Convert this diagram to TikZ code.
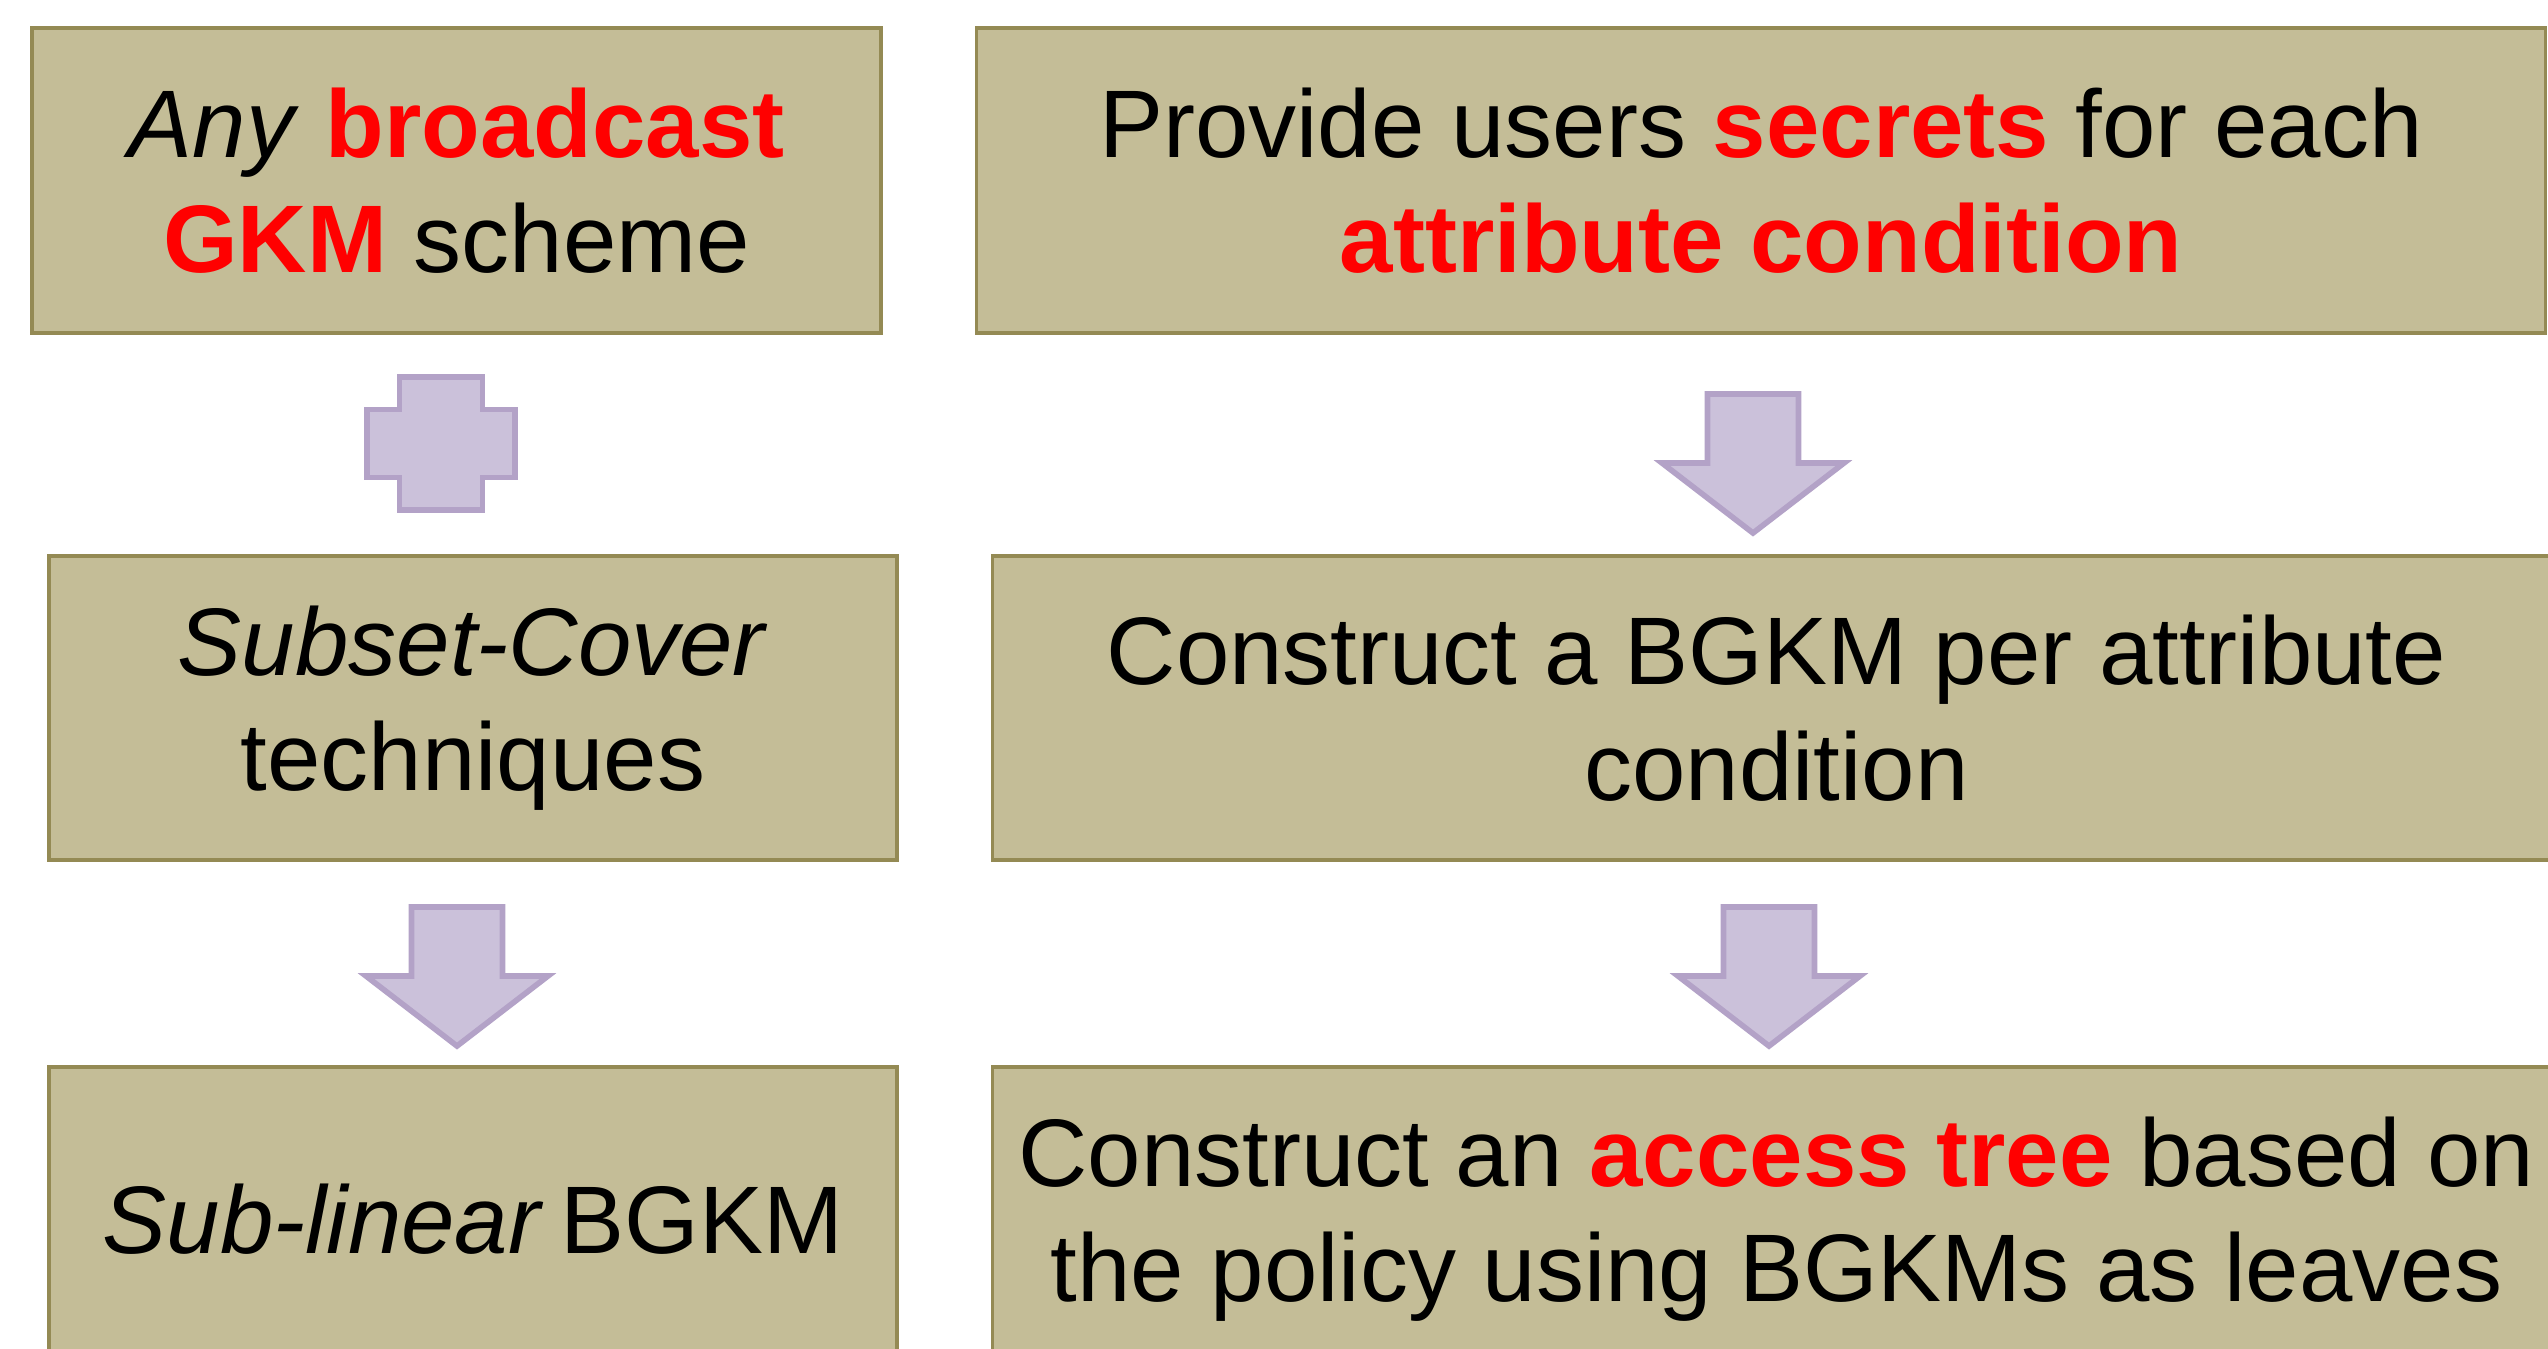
\documentclass[tikz,border=0pt]{standalone}
\usepackage{fontspec}
\setmainfont{Liberation Sans}
\definecolor{boxfill}{HTML}{C4BD97}
\definecolor{boxline}{HTML}{948A54}
\definecolor{arrfill}{HTML}{CBC1DA}
\definecolor{arrline}{HTML}{B3A2C7}
\definecolor{hl}{HTML}{FF0000}
\newcommand{\hlt}[1]{\textcolor{hl}{\textbf{#1}}}
\begin{document}
\begin{tikzpicture}[x=0.01cm,y=-0.01cm,
  box/.style={draw=boxline, fill=boxfill, line width=1.1pt, align=center,
    inner sep=0pt, font=\fontsize{27.3}{32.8}\selectfont},
  arrstyle/.style={draw=arrline, fill=arrfill, line width=1.6pt, line join=miter},
  downarr/.pic={\draw[arrstyle] (-45.5,0) -- (45.5,0) -- (45.5,69) -- (91,69) -- (0,139) -- (-91,69) -- (-45.5,69) -- cycle;},
  plusshape/.pic={\draw[arrstyle] (-41.5,-66.5) -- (41.5,-66.5) -- (41.5,-34) -- (74,-34) -- (74,34) -- (41.5,34) -- (41.5,66.5) -- (-41.5,66.5) -- (-41.5,34) -- (-74,34) -- (-74,-34) -- (-41.5,-34) -- cycle;}
]
\useasboundingbox (0,0) rectangle (2548,1348);
\clip (0,0) rectangle (2548,1348);
\fill[white] (0,0) rectangle (2548,1348);

\node[box, minimum width=8.49cm, minimum height=3.05cm] (b1) at (456.5,180.5)
  {\textit{Any} \hlt{broadcast}\\\hlt{GKM} scheme};
\node[box, minimum width=15.68cm, minimum height=3.05cm] (b2) at (1761,180.5)
  {Provide users \hlt{secrets} for each\\\hlt{attribute condition}};
\node[box, minimum width=8.48cm, minimum height=3.04cm] (b3) at (473,708)
  {\textit{Subset-Cover}\\techniques};
\node[box, minimum width=15.67cm, minimum height=3.04cm] (b4) at (1776.5,708)
  {Construct a BGKM per attribute\\condition};
\node[box, minimum width=8.48cm, minimum height=3.04cm] (b5) at (473,1219)
  {\textit{Sub-linear}\kern-0.1em{} BGKM};
\node[box, minimum width=15.67cm, minimum height=3.04cm] (b6) at (1776.5,1219)
  {Construct an \hlt{access tree} based on\\the policy using BGKMs as leaves};

\pic at (441,443.5) {plusshape};
\pic at (1753,394) {downarr};
\pic at (457,907) {downarr};
\pic at (1769,907) {downarr};
\end{tikzpicture}
\end{document}
